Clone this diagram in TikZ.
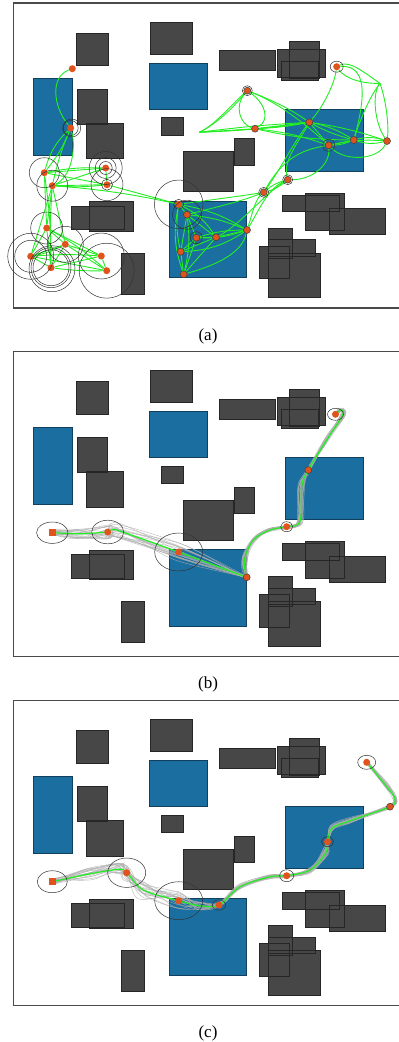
\documentclass[tikz,border=0pt]{standalone}
\usepackage{fontspec}
\setmainfont{Liberation Serif}
\usetikzlibrary{calc}
\pgfdeclarelayer{obst}
\pgfdeclarelayer{edges}
\pgfsetlayers{obst,edges,main}
\definecolor{obsc}{HTML}{474747}
\definecolor{obsl}{HTML}{262626}
\definecolor{bluec}{HTML}{1B6FA0}
\definecolor{bluel}{HTML}{123F5C}
\definecolor{greenc}{HTML}{22EE22}
\definecolor{orangec}{HTML}{E0531C}
\definecolor{framec}{HTML}{4A4A4A}
\newcommand{\darkrects}{%
  (76.7,33.3) rectangle (108.3,65.7)
  (150,22) rectangle (192.3,54.3)
  (219.3,50.7) rectangle (275.7,70.7)
  (289,41) rectangle (319.3,78.3)
  (277,49) rectangle (325.7,77)
  (281,61) rectangle (318.3,80)
  (77.7,89) rectangle (107.7,124)
  (86.3,123.3) rectangle (123,158.7)
  (161,117.7) rectangle (183.7,135)
  (234,138.7) rectangle (254.7,165)
  (183.7,151.7) rectangle (233,191.7)
  (71.7,206.3) rectangle (124,229.7)
  (89.7,201.7) rectangle (133.7,231.3)
  (121,253.3) rectangle (144.7,294.3)
  (282.7,195) rectangle (339.3,211.7)
  (305,193.3) rectangle (344.3,230.3)
  (329.7,208) rectangle (385.3,234)
  (268,228) rectangle (292.3,258.3)
  (268.7,239.7) rectangle (315,256.3)
  (259,246) rectangle (289.3,278.7)
  (268,253.3) rectangle (320.7,297.7)}
\newcommand{\bluerects}{%
  (33,78.7) rectangle (72,155.7)
  (149.3,63.3) rectangle (207.7,109.3)
  (285,109) rectangle (363,171)
  (169,201) rectangle (246.7,277.7)}
\newcommand{\drawworld}{%
  \begin{pgfonlayer}{obst}
    \fill[obsc] \darkrects;
    \draw[obsl,line width=0.6pt] \darkrects;
    \fill[bluec] \bluerects;
    \draw[bluel,line width=0.6pt] \bluerects;
    \draw[framec,line width=1.1pt] (402,3) -- (13.5,3) -- (13.5,308) -- (402,308);
  \end{pgfonlayer}}
\begin{document}
\begin{tikzpicture}[x=1pt,y=-1pt,
  dot/.style={circle,fill=orangec,inner sep=0pt,minimum size=7pt},
  dotr/.style={dot,draw=black!75,line width=0.5pt},
  sqm/.style={rectangle,fill=orangec,inner sep=0pt,minimum size=7.5pt},
  link/.style={greenc,line width=0.9pt},
  ring/.style={black!80,line width=0.5pt},
  bundle/.style={black!32,line width=0.45pt,opacity=0.8},
  route/.style={greenc,line width=1.2pt},
  caption/.style={font=\fontsize{17}{19}\selectfont}]
\useasboundingbox (0,0) rectangle (399,1042);
\pgfmathsetseed{17}
% ---------------- panel (a)
\begin{scope}
\drawworld
\node[dot] (n1) at (72.3,68.7) {};
\node[dot] (n2) at (70.7,128) {};
\node[dot] (n3) at (44.3,172.7) {};
\node[dot] (n4) at (52.3,185.7) {};
\node[dot] (n5) at (105.7,168) {};
\node[dot] (n6) at (107,184.7) {};
\node[dot] (n7) at (46.7,228) {};
\node[dot] (n8) at (65.3,244.3) {};
\node[dot] (n9) at (30.7,256.3) {};
\node[dot] (n10) at (51,267.7) {};
\node[dot] (n11) at (101.3,256) {};
\node[dot] (n12) at (106.7,270.7) {};
\node[dot] (n13) at (178.7,204.3) {};
\node[dotr] (n14) at (187,214.7) {};
\node[dotr] (n15) at (196.3,237.7) {};
\node[dotr] (n16) at (216,237.3) {};
\node[dotr] (n17) at (247,230) {};
\node[dotr] (n18) at (180.7,251.7) {};
\node[dotr] (n19) at (183.7,274.3) {};
\node[dotr] (n20) at (263.7,192.3) {};
\node[dotr] (n21) at (287.7,179.7) {};
\node[dotr] (n22) at (247.3,90.7) {};
\node[dotr] (n23) at (255,128.7) {};
\node[dotr] (n24) at (309.3,122.3) {};
\node[dotr] (n25) at (328.7,145.3) {};
\node[dotr] (n26) at (353.7,140) {};
\node[dotr] (n27) at (387,141) {};
\node[dot] (n28) at (336.7,66.7) {};
\coordinate (f1) at (199.3,132.3);
\coordinate (f2) at (380,83.3);
\begin{pgfonlayer}{edges}
% left part
\draw[link] (n1) .. controls +(-22,8) and +(-18,-22) .. (n2);
\draw[link] (n2) to[bend right=15] (n3);
\draw[link] (n2) to[bend left=8] (n3);
\draw[link] (n2) to[bend right=5] (n4);
\draw[link] (n2) .. controls +(6,22) and +(18,-8) .. (n4);
\draw[link] (n3) -- (n5);
\draw[link] (n3) to[bend left=6] (n5);
\draw[link] (n3) -- (n6);
\draw[link] (n4) -- (n5);
\draw[link] (n4) -- (n6);
\draw[link] (n4) to[bend right=5] (n6);
\draw[link] (n5) -- (n6);
\draw[link] (n3) -- (n7);
\draw[link] (n4) -- (n7);
\draw[link] (n3) to[bend left=4] (n10);
\draw[link] (n4) -- (n9);
\draw[link] (n4) -- (n8);
\draw[link] (n4) to[bend right=3] (n10);
\draw[link] (n7) -- (n8);
\draw[link] (n7) -- (n9);
\draw[link] (n7) -- (n10);
\draw[link] (n7) -- (n11);
\draw[link] (n7) to[bend left=6] (n12);
\draw[link] (n8) -- (n9);
\draw[link] (n8) -- (n10);
\draw[link] (n8) -- (n11);
\draw[link] (n8) -- (n12);
\draw[link] (n9) -- (n10);
\draw[link] (n9) to[bend left=4] (n11);
\draw[link] (n9) -- (n12);
\draw[link] (n10) -- (n11);
\draw[link] (n10) to[bend right=4] (n12);
\draw[link] (n11) -- (n12);
\draw[link] (n9) to[bend right=8] (n8);
\draw[link] (n6) -- (n13);
\draw[link] (n4) .. controls (112,190) and (150,198) .. (n13);
% lower-right cluster
\draw[link] (n13) -- (n14);
\draw[link] (n13) to[bend right=10] (n18);
\draw[link] (n13) to[bend right=15] (n19);
\draw[link] (n14) -- (n18);
\draw[link] (n14) to[bend left=10] (n19);
\draw[link] (n14) -- (n15);
\draw[link] (n14) -- (n16);
\draw[link] (n14) to[bend left=8] (n17);
\draw[link] (n13) to[bend left=10] (n17);
\draw[link] (n13) to[bend left=15] (n16);
\draw[link] (n15) -- (n16);
\draw[link] (n16) -- (n17);
\draw[link] (n15) to[bend left=8] (n17);
\draw[link] (n15) to[bend right=10] (n17);
\draw[link] (n15) -- (n18);
\draw[link] (n15) -- (n19);
\draw[link] (n18) -- (n19);
\draw[link] (n18) to[bend right=15] (n17);
\draw[link] (n19) .. controls (220,264) and (242,252) .. (n17);
\draw[link] (n16) -- (n19);
\draw[link] (n18) -- (n16);
\draw[link] (n14) .. controls (225,205) and (245,200) .. (n20);
\draw[link] (n13) .. controls (225,198) and (248,195) .. (n20);
\draw[link] (n17) .. controls (252,215) and (255,200) .. (n20);
\draw[link] (n17) .. controls (258,212) and (268,188) .. (n21);
\draw[link] (n16) .. controls (240,225) and (262,196) .. (n21);
% middle-right
\draw[link] (n20) to[bend left=12] (n21);
\draw[link] (n20) to[bend right=12] (n21);
\draw[link] (n20) .. controls (280,170) and (292,145) .. (n24);
\draw[link] (n21) .. controls (283,160) and (300,140) .. (n24);
\draw[link] (n21) .. controls (312,180) and (330,165) .. (n25);
\draw[link] (n20) .. controls (282,160) and (300,150) .. (n25);
% upper right
\draw[link] (n22) .. controls (232,104) and (214,126) .. (f1);
\draw[link] (f1) .. controls (220,122) and (236,104) .. (n22);
\draw[link] (f1) -- (n23);
\draw[link] (f1) to[bend left=2] (n24);
\draw[link] (f1) to[bend right=3] (n24);
\draw[link] (n22) .. controls (234,106) and (240,124) .. (n23);
\draw[link] (n22) .. controls (266,104) and (270,120) .. (n23);
\draw[link] (n22) .. controls (272,100) and (292,110) .. (n24);
\draw[link] (n22) .. controls (282,104) and (312,130) .. (n25);
\draw[link] (n23) -- (n24);
\draw[link] (n23) to[bend right=4] (n24);
\draw[link] (n23) to[bend left=6] (n25);
\draw[link] (n23) to[bend right=6] (n26);
\draw[link] (n24) -- (n25);
\draw[link] (n24) to[bend left=10] (n26);
\draw[link] (n24) to[bend right=6] (n26);
\draw[link] (n24) to[bend left=5] (n27);
\draw[link] (n24) .. controls (322,108) and (334,86) .. (n28);
\draw[link] (n25) -- (n26);
\draw[link] (n25) to[bend right=10] (n26);
\draw[link] (n26) to[bend left=15] (n27);
\draw[link] (n26) to[bend right=15] (n27);
\draw[link] (n25) .. controls (345,162) and (378,160) .. (n27);
\draw[link] (n25) to[bend left=8] (n27);
\draw[link] (n28) .. controls (350,60) and (366,74) .. (f2);
\draw[link] (n28) .. controls (346,80) and (366,84) .. (f2);
\draw[link] (f2) .. controls (386,100) and (389,125) .. (n27);
\draw[link] (f2) .. controls (370,96) and (360,120) .. (n26);
\draw[link] (f2) .. controls (372,92) and (374,122) .. (n27);
\draw[link] (n28) .. controls (372,64) and (362,110) .. (n26);
\end{pgfonlayer}
% rings
\draw[ring] (n2) circle[radius=7.5];
\draw[ring] ($(n2)+(1,0)$) circle[radius=9];
\draw[ring] (n3) circle[radius=15];
\draw[ring] (n4) circle[radius=15.5];
\draw[ring] (n5) circle[radius=16.5];
\draw[ring] (n5) circle[radius=10.5];
\draw[ring] (n5) circle[radius=6.5];
\draw[ring] (n6) circle[radius=16];
\draw[ring] (n6) circle[radius=5.5];
\draw[ring] (n7) circle[radius=16];
\draw[ring] (n8) circle[radius=18];
\draw[ring] (n9) circle[radius=16];
\draw[ring] (n9) circle[radius=23];
\draw[ring] (n10) circle[radius=18];
\draw[ring] (n10) circle[radius=20];
\draw[ring] ($(n10)+(1,1)$) circle[radius=23];
\draw[ring] (n11) circle[radius=23];
\draw[ring] (n12) circle[radius=27.5];
\draw[ring] (n13) circle[radius=24.3];
\draw[ring] (n13) circle[radius=5];
\draw[ring] (n14) circle[radius=14.5];
\draw[ring] (n15) circle[radius=6];
\draw[ring] (n20) circle[radius=5];
\draw[ring] (n21) circle[radius=5];
\draw[ring] (n22) circle[radius=5];
\draw[ring] (n25) circle[radius=6];
\draw[ring] (n28) ellipse[x radius=6.5,y radius=5.5];
\node[caption] (capa) at (208,336) {(a)};
\end{scope}
% ---------------- panel (b)
\begin{scope}[shift={(0,348.3)}]
\drawworld
\node[sqm] (b1) at (52.3,184.4) {};
\node[dot] (b2) at (107.7,183.7) {};
\node[dot] (b3) at (178.7,203.7) {};
\node[dotr] (b4) at (246.7,229) {};
\node[dot] (b5) at (286.7,178.4) {};
\node[dotr] (b6) at (308.3,121.7) {};
\node[dot] (b7) at (335.5,66) {};
\coordinate (bw1) at (80,185.5);
\coordinate (bw2) at (116,181.5);
\coordinate (bw3) at (244.5,211.7);
\coordinate (bw4) at (253.3,191.7);
\coordinate (bw5) at (270,181.7);
\coordinate (bw6) at (300,173);
\coordinate (bw7) at (301.7,138);
\coordinate (bw8) at (326.7,91.7);
\coordinate (bw9) at (342.5,67);
\coordinate (bw10) at (341,61.5);
\begin{pgfonlayer}{edges}
\foreach \k in {1,...,20}{
  \draw[bundle] plot[smooth,tension=0.5] coordinates {
    ($(b1)+({2*rand},{3*rand})$) ($(bw1)+({4*rand},{5*rand})$)
    ($(b2)+({4*rand},{7*rand})$) ($(bw2)+({4*rand},{7*rand})$)
    ($(b3)+({5*rand},{9*rand})$) ($(b4)+({1.5*rand},{1.5*rand})$)};
  \draw[bundle] plot[smooth,tension=0.6] coordinates {
    ($(b4)+({1.5*rand},{1.5*rand})$) ($(bw3)+({3*rand},{2*rand})$)
    ($(bw4)+({2*rand},{2*rand})$) ($(bw5)+({1.5*rand},{2*rand})$)
    ($(b5)+({1.5*rand},{2*rand})$) ($(bw6)+({3*rand},{2*rand})$)
    ($(bw7)+({4*rand},{3*rand})$) ($(b6)+({1.5*rand},{1.5*rand})$)
    ($(bw8)+({2*rand},{2*rand})$) ($(bw9)+({3*rand},{2*rand})$)
    ($(bw10)+({3*rand},{2*rand})$) ($(b7)+({1.5*rand},{1.5*rand})$)};
}
\draw[route] plot[smooth,tension=0.3] coordinates {(b1) (bw1) (b2) (bw2) (b3) (b4)};
\draw[route] plot[smooth,tension=0.6] coordinates {(b4) (bw3) (bw4) (bw5) (b5) (bw6) (bw7) (b6) (bw8) (bw9) (bw10) (b7)};
\end{pgfonlayer}
\draw[ring] (b1) ellipse[x radius=15.7,y radius=10.7];
\draw[ring] (b2) ellipse[x radius=16,y radius=11.8];
\draw[ring] (b3) ellipse[x radius=24,y radius=19];
\draw[ring] (b5) ellipse[x radius=6,y radius=5];
\draw[ring] (b7) ellipse[x radius=8,y radius=6];
\node[caption] (capb) at (208,336) {(b)};
\end{scope}
% ---------------- panel (c)
\begin{scope}[shift={(0,697.3)}]
\drawworld
\node[sqm] (c1) at (52.3,184.4) {};
\node[dot] (c2) at (126.7,175.4) {};
\node[dot] (c3) at (178.7,203.4) {};
\node[dot] (c4) at (219,207.7) {};
\node[dot] (c5) at (286.7,178.4) {};
\node[dot] (c6) at (327.5,144.4) {};
\node[dotr] (c7) at (390,109.4) {};
\node[dot] (c8) at (366.7,65) {};
\coordinate (cw1) at (90,176.5);
\coordinate (cw2) at (119,172);
\coordinate (cw3) at (143.3,192.7);
\coordinate (cw4) at (200,208.5);
\coordinate (cw5) at (240,189.4);
\coordinate (cw6) at (270,179.5);
\coordinate (cw7) at (310,172.7);
\coordinate (cw8) at (325.5,156);
\coordinate (cw9) at (332,131);
\coordinate (cw10) at (350,123.5);
\coordinate (cw11) at (395,101.5);
\coordinate (cw12) at (386.7,89.4);
\begin{pgfonlayer}{edges}
\foreach \k in {1,...,20}{
  \draw[bundle] plot[smooth,tension=0.55] coordinates {
    ($(c1)+({2*rand},{3*rand})$) ($(cw1)+({4*rand},{6*rand})$)
    ($(cw2)+({5*rand},{6*rand})$) ($(c2)+({6*rand},{7*rand})$)
    ($(cw3)+({6*rand},{9*rand})$) ($(c3)+({6*rand},{9*rand})$)
    ($(cw4)+({3*rand},{4*rand})$) ($(c4)+({1.5*rand},{2*rand})$)
    ($(cw5)+({2*rand},{2*rand})$) ($(cw6)+({2*rand},{2*rand})$)
    ($(c5)+({1.5*rand},{2*rand})$) ($(cw7)+({2*rand},{3*rand})$)
    ($(cw8)+({3*rand},{3*rand})$) ($(c6)+({1.5*rand},{2*rand})$)
    ($(cw9)+({2*rand},{3*rand})$) ($(cw10)+({2*rand},{3*rand})$)
    ($(c7)+({1.5*rand},{2*rand})$) ($(cw11)+({2*rand},{2*rand})$)
    ($(cw12)+({3*rand},{2*rand})$) ($(c8)+({1.5*rand},{1.5*rand})$)};
}
\draw[route] plot[smooth,tension=0.55] coordinates {(c1) (cw1) (cw2) (c2) (cw3) (c3) (cw4) (c4) (cw5) (cw6) (c5) (cw7) (cw8) (c6) (cw9) (cw10) (c7) (cw11) (cw12) (c8)};
\end{pgfonlayer}
\draw[ring] (c1) ellipse[x radius=15,y radius=11];
\draw[ring] (c2) ellipse[x radius=19,y radius=14.7];
\draw[ring] (c3) ellipse[x radius=24,y radius=19];
\draw[ring] (c4) ellipse[x radius=6.7,y radius=5.2];
\draw[ring] (c5) ellipse[x radius=7,y radius=6];
\draw[ring] (c6) ellipse[x radius=6,y radius=5];
\draw[ring] (c8) ellipse[x radius=9,y radius=7];
\node[caption] (capc) at (208,336.5) {(c)};
\end{scope}
\end{tikzpicture}
\end{document}
